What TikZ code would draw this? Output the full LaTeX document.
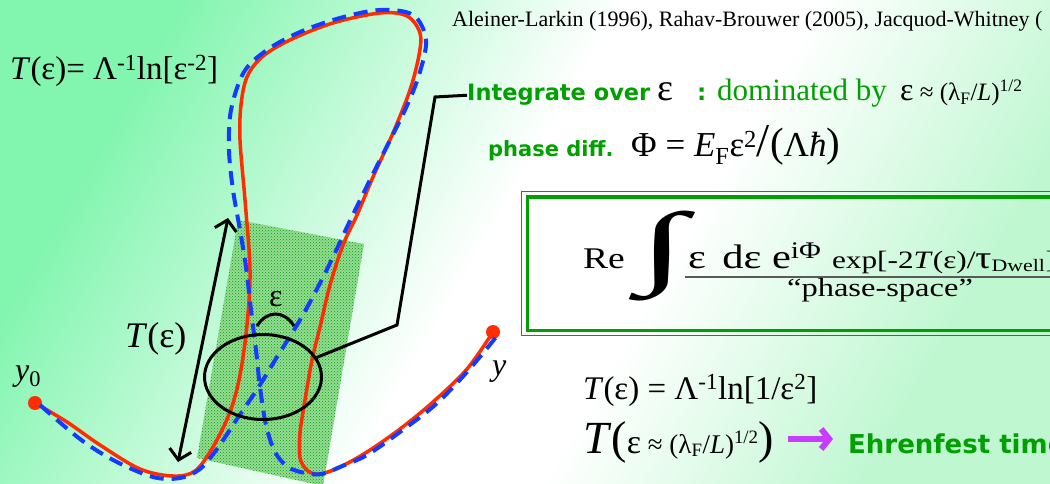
\documentclass[tikz,border=0pt]{standalone}
\usepackage{fontspec}
\setmainfont{Liberation Serif}
\newfontfamily\slidesans{DejaVu Sans}
\newfontfamily\wideserif{Liberation Serif}[FakeStretch=1.25]
\usetikzlibrary{arrows.meta,patterns,shapes.geometric}

\definecolor{mintgreen}{RGB}{130,245,175}
\definecolor{palegreen}{RGB}{190,247,208}
\definecolor{slidegreen}{RGB}{0,160,0}
\definecolor{orbitred}{RGB}{255,45,0}
\definecolor{orbitblue}{RGB}{20,60,255}
\definecolor{arrowviolet}{RGB}{200,60,255}
\definecolor{hatchfill}{RGB}{150,220,150}
\definecolor{hatchdark}{RGB}{0,160,0}

\pgfdeclareverticalshading{slidebg}{100bp}{color(0bp)=(palegreen); color(25bp)=(palegreen); color(42bp)=(white); color(52bp)=(white); color(75bp)=(mintgreen); color(100bp)=(mintgreen)}

\newcommand{\sz}[1]{\fontsize{#1}{#1}\selectfont}
\newcommand{\gbf}{\slidesans\bfseries\color{slidegreen}}

\tikzset{
  txt/.style={anchor=base west,inner sep=0pt},
  redorbit/.style={orbitred,line width=3.5pt,line cap=round},
  blueorbit/.style={orbitblue,line width=4pt,dash pattern=on 14pt off 8pt},
  blackline/.style={line width=3pt},
  barbs/.style={{Straight Barb[length=10pt,width=22pt]}-{Straight Barb[length=10pt,width=22pt]}},
}

\begin{document}
\begin{tikzpicture}[x=1pt,y=-1pt]
\useasboundingbox (0,0) rectangle (1050,484);
\clip (0,0) rectangle (1050,484);
\shade[shading=slidebg,shading angle=60] (0,0) rectangle (1050,484);

% hatched strip round the crossing
\fill[hatchfill] (238,220) -- (364,244) -- (323,486) -- (197,458) -- cycle;
\fill[pattern=crosshatch dots,pattern color=hatchdark] (238,220) -- (364,244) -- (323,486) -- (197,458) -- cycle;

\coordinate (start) at (35,403);
\coordinate (finish) at (493,332);

% the two orbits
\draw[redorbit] plot[smooth,tension=0.55] coordinates {(35,403) (67,422) (100,445) (140,469) (173,476) (195,471) (213,447) (230,412) (240,375) (247,325) (250,270) (245,200) (240,140) (241,105) (247,77) (262,57) (290,40) (333,23) (380,13) (407,16) (420,33) (419,55) (410,90) (393,133) (373,177) (357,215) (343,245) (330,285) (320,327) (312,360) (305,400) (300,433) (300,458) (308,471) (320,474) (340,467) (367,452) (400,429) (433,402) (467,369) (493,332)};
\fill[orbitred] (start) circle (7pt);
\fill[orbitred] (finish) circle (7pt);
\draw[blueorbit] plot[smooth,tension=0.55] coordinates {(40,405) (80,439) (115,461) (153,477) (180,478) (200,469) (217,449) (237,419) (258,388) (277,357) (300,320) (318,287) (335,253) (348,225) (365,190) (385,150) (405,110) (419,75) (426,40) (413,15) (380,10) (340,18) (300,32) (267,50) (244,72) (231,110) (229,150) (233,190) (240,230) (246,267) (251,310) (256,350) (260,387) (266,425) (275,452) (288,467) (305,473) (322,474) (340,467) (367,455) (400,432) (435,405) (467,372) (497,336)};

\node[draw,ellipse,line width=3pt,minimum width=117pt,minimum height=85pt,inner sep=0pt] (zone) at (263,377) {};

% labels on the orbits
\node[txt] (tlabel) at (125,347) {\sz{36}\textit{T}(ε)};
\node[txt] (ylabel0) at (15,380) {\sz{32}\textit{y}\textsubscript{0}};
\node[txt] (ylabel) at (492,375) {\sz{32}\textit{y}};
\node[txt] (epslabel) at (269,306) {\sz{32}ε};
\draw[blackline] (257,326) .. controls (267,310) and (284,310) .. (294,326);

\coordinate (tbottom) at (178,462);
\coordinate (ttop) at (228,218);
\draw[blackline,barbs] (tbottom) -- (ttop);

% formulas
\node[txt] (refs) at (452,27) {\sz{22}Aleiner-Larkin (1996), Rahav-Brouwer (2005), Jacquod-Whitney (};
\node[txt] (tdef) at (10,80) {\sz{33}\textit{T}(ε)= Λ\textsuperscript{-1}ln[ε\textsuperscript{-2}]};

\node[txt] (integ) at (467,101) {\sz{22.5}\gbf Integrate over};
\node[txt] (integeps) at (657,101) {\sz{38}ε};
\node[txt] (colon) at (697,101) {\sz{23}\gbf :};
\node[txt] (domin) at (717,101) {\sz{31}\color{slidegreen}dominated by};
\node[txt] (epsval) at (900,101) {\sz{32}ε\sz{25} ≈ (λ\textsubscript{F}/\textit{L})\textsuperscript{1/2}};

\node[txt] (phase) at (488,157) {\sz{21}\gbf phase diff.};
\node[txt] (phi) at (631,157) {\sz{35}Φ = \textit{E}\textsubscript{F}ε\textsuperscript{2}{\sz{47}/}{\sz{41}(}Λ\textit{ħ}{\sz{41})}};

\draw[blackline] (zone.20) -- (397,325) -- (435,97) -- (integ.west);

% boxed integral
\draw[slidegreen,line width=1pt] (521,192) rectangle (1060,335);
\draw[slidegreen,line width=3pt] (527,197) rectangle (1060,330);
\node[txt] (re) at (583,268) {\wideserif\sz{30}Re};
\node[anchor=north west,inner sep=0pt] (intsign) at (638,211) {\resizebox*{48pt}{90pt}{∫}};
\node[txt] (numer) at (688,268) {\wideserif\sz{34}ε\ \,dε e\textsuperscript{iΦ} \sz{25}exp[-2\textit{T}(ε)/{\sz{32}τ}\textsubscript{Dwell}]};
\draw[black!65,line width=1.5pt] (685,277) -- (1050,277);
\node[anchor=base,inner sep=0pt] (denom) at (880,296) {\wideserif\sz{26}“phase-space”};

% bottom formulas
\node[txt] (tlog) at (583,399) {\sz{33}\textit{T}(ε) = Λ\textsuperscript{-1}ln[1/ε\textsuperscript{2}]};
\node[txt] (tlimit) at (583,453) {\sz{46}\textit{T}(\sz{34}ε\sz{27} ≈ (λ\textsubscript{F}/\textit{L})\textsuperscript{1/2}\sz{46})};
\node[txt] (ehren) at (848,453) {\sz{26}\gbf Ehrenfest time};
\draw[arrowviolet,line width=6pt,-{Straight Barb[length=8pt,width=20pt]}] ([xshift=14pt,yshift=14pt]tlimit.base east) -- ([xshift=-15pt,yshift=14pt]ehren.base west);
\end{tikzpicture}
\end{document}
